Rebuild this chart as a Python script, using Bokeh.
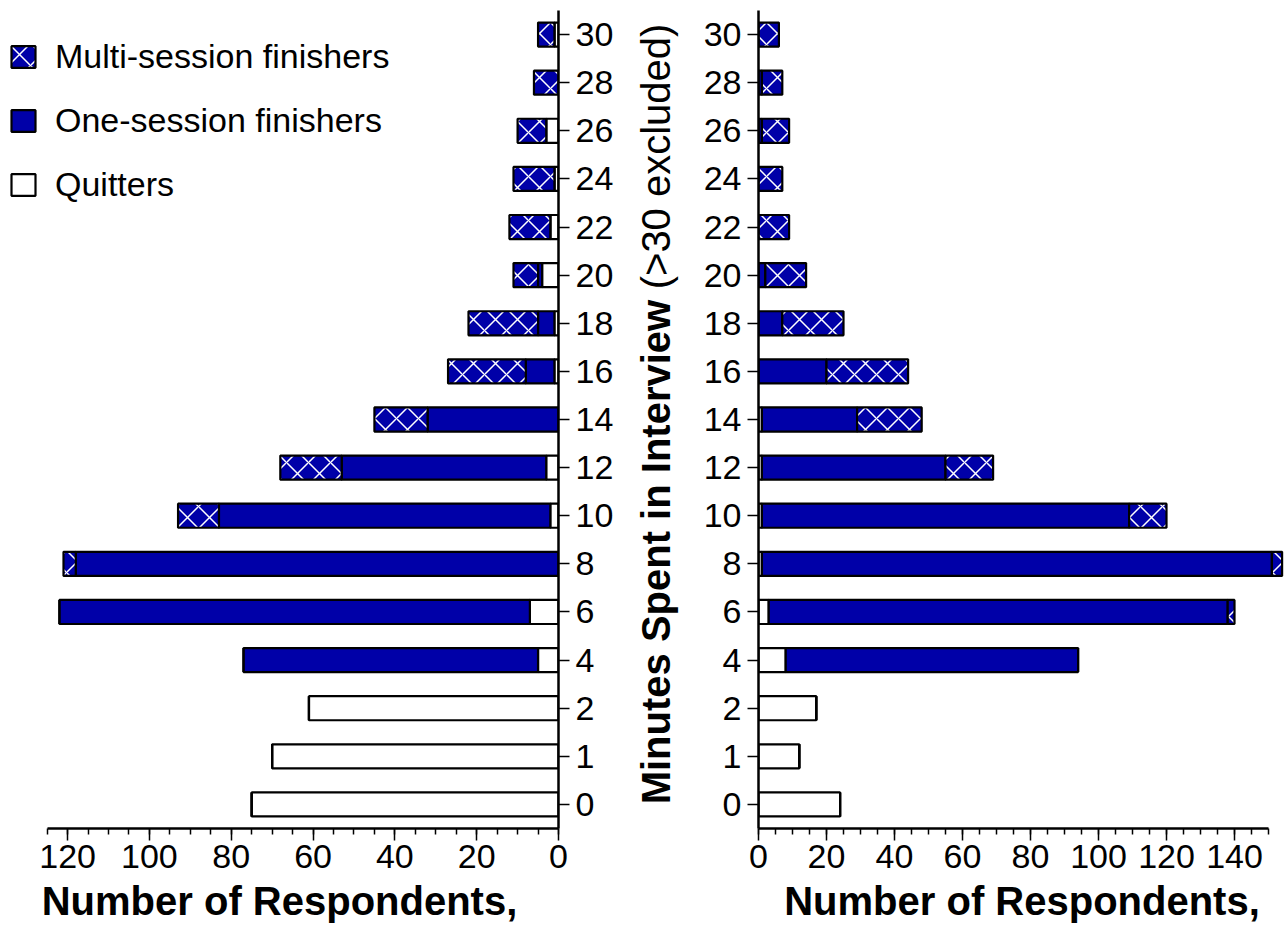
import numpy as np
from bokeh.plotting import figure
from bokeh.layouts import row
from bokeh.models import (Range1d, FactorRange, SingleIntervalTicker, Legend,
                          LegendItem, ColumnDataSource)
from bokeh.core.properties import value
from bokeh.embed import file_html
from bokeh.resources import INLINE

# Minutes spent in the interview (categories on the shared vertical axis)
minutes = ["0", "1", "2", "4", "6", "8", "10", "12", "14", "16",
           "18", "20", "22", "24", "26", "28", "30"]

# Left panel: respondents per group
quit_left = [75, 70, 61, 5, 7, 0, 2, 3, 0, 1, 1, 4, 2, 1, 3, 0, 1]
one_left = [0, 0, 0, 72, 115, 118, 81, 50, 32, 7, 4, 1, 0, 0, 0, 0, 0]
multi_left = [0, 0, 0, 0, 0, 3, 10, 15, 13, 19, 17, 6, 10, 10, 7, 6, 4]

# Right panel: respondents per group
quit_right = [24, 12, 17, 8, 3, 1, 1, 1, 1, 0, 0, 0, 0, 0, 0, 0, 0]
one_right = [0, 0, 0, 86, 135, 150, 108, 54, 28, 20, 7, 2, 0, 0, 1, 1, 0]
multi_right = [0, 0, 0, 0, 2, 3, 11, 14, 19, 24, 18, 12, 9, 7, 8, 6, 6]

group_labels = ["Quitters", "One-session finishers", "Multi-session finishers"]

BLUE = "#0000A8"
FONT = "Liberation Sans"
TICK_SIZE = "34px"
TITLE_SIZE = "40px"


def stacked_bars(p, quit, one, multi):
    q = np.array(quit, dtype=float)
    o = np.array(one, dtype=float)
    m = np.array(multi, dtype=float)
    edges = [np.zeros(len(q)), q, q + o, q + o + m]
    styles = [
        dict(fill_color="white"),
        dict(fill_color=BLUE),
        dict(fill_color=BLUE, hatch_pattern="x", hatch_color="white",
             hatch_scale=22, hatch_weight=1.5),
    ]
    rs = []
    for i, st in enumerate(styles):
        src = ColumnDataSource(dict(y=minutes, left=edges[i], right=edges[i + 1]))
        r = p.hbar(y="y", left="left", right="right", height=0.5, source=src,
                   line_color="black", line_width=2.2, **st)
        rs.append(r)
    return rs


def style_axes(p, bounds):
    p.xgrid.visible = False
    p.ygrid.visible = False
    p.outline_line_color = None
    for ax in p.xaxis + p.yaxis:
        ax.axis_line_width = 2.5
        ax.axis_line_color = "black"
        ax.major_tick_line_color = "black"
        ax.major_tick_line_width = 1.5
        ax.minor_tick_line_color = "black"
        ax.minor_tick_line_width = 1.5
        ax.major_tick_in = 0
        ax.minor_tick_in = 0
        ax.major_label_text_font = FONT
        ax.major_label_text_font_size = TICK_SIZE
        ax.major_label_text_color = "black"
    xa = p.xaxis[0]
    xa.ticker = SingleIntervalTicker(interval=20, num_minor_ticks=4)
    xa.bounds = bounds
    xa.major_tick_out = 12
    xa.minor_tick_out = 6
    xa.major_label_standoff = 4
    xa.axis_label = "Number of Respondents,"
    xa.axis_label_text_font = FONT
    xa.axis_label_text_font_style = "bold"
    xa.axis_label_text_font_size = TITLE_SIZE
    xa.axis_label_text_color = "black"
    xa.axis_label_standoff = 8
    ya = p.yaxis[0]
    ya.major_tick_out = 11
    ya.major_label_standoff = 6


# Left panel (bars grow leftwards)
left = figure(width=630, height=933, x_range=Range1d(136.4, 0),
              y_range=FactorRange(*minutes), y_axis_location="right",
              output_backend="svg", toolbar_location=None,
              min_border_left=0, min_border_right=72,
              min_border_top=10, min_border_bottom=105)
rl = stacked_bars(left, quit_left, one_left, multi_left)
style_axes(left, (0, 125))

legend = Legend(items=[LegendItem(label=group_labels[2], renderers=[rl[2]]),
                       LegendItem(label=group_labels[1], renderers=[rl[1]]),
                       LegendItem(label=group_labels[0], renderers=[rl[0]])],
                location=(8, 624), padding=0, margin=0, spacing=24,
                glyph_width=30, glyph_height=27, label_height=40,
                label_standoff=17, label_text_font=FONT,
                label_text_font_size=TICK_SIZE, label_text_color="black",
                border_line_alpha=0, background_fill_alpha=0)
left.add_layout(legend)

# Centre strip with the shared vertical title
mid = figure(width=70, height=933, x_range=Range1d(0, 70), y_range=Range1d(0, 933),
             output_backend="svg", toolbar_location=None, min_border=0)
mid.axis.visible = False
mid.xgrid.visible = False
mid.ygrid.visible = False
mid.outline_line_color = None
mid.text(x=[25], y=[933 - 330], text=["Minutes Spent in Interview"], angle=np.pi / 2,
         text_align="right", text_baseline="middle", text_font=value(FONT),
         text_font_style="bold", text_font_size=TITLE_SIZE, text_color="black")
mid.text(x=[25], y=[933 - 318], text=["(>30 excluded)"], angle=np.pi / 2,
         text_align="left", text_baseline="middle", text_font=value(FONT),
         text_font_style="normal", text_font_size=TITLE_SIZE, text_color="black")

# Right panel (bars grow rightwards)
right = figure(width=585, height=933, x_range=Range1d(0, 155),
               y_range=FactorRange(*minutes),
               output_backend="svg", toolbar_location=None,
               min_border_left=58, min_border_right=0,
               min_border_top=10, min_border_bottom=105)
stacked_bars(right, quit_right, one_right, multi_right)
style_axes(right, (0, 150))

layout = row(left, mid, right, spacing=0)
open("out.html", "w").write(file_html(layout, INLINE))
